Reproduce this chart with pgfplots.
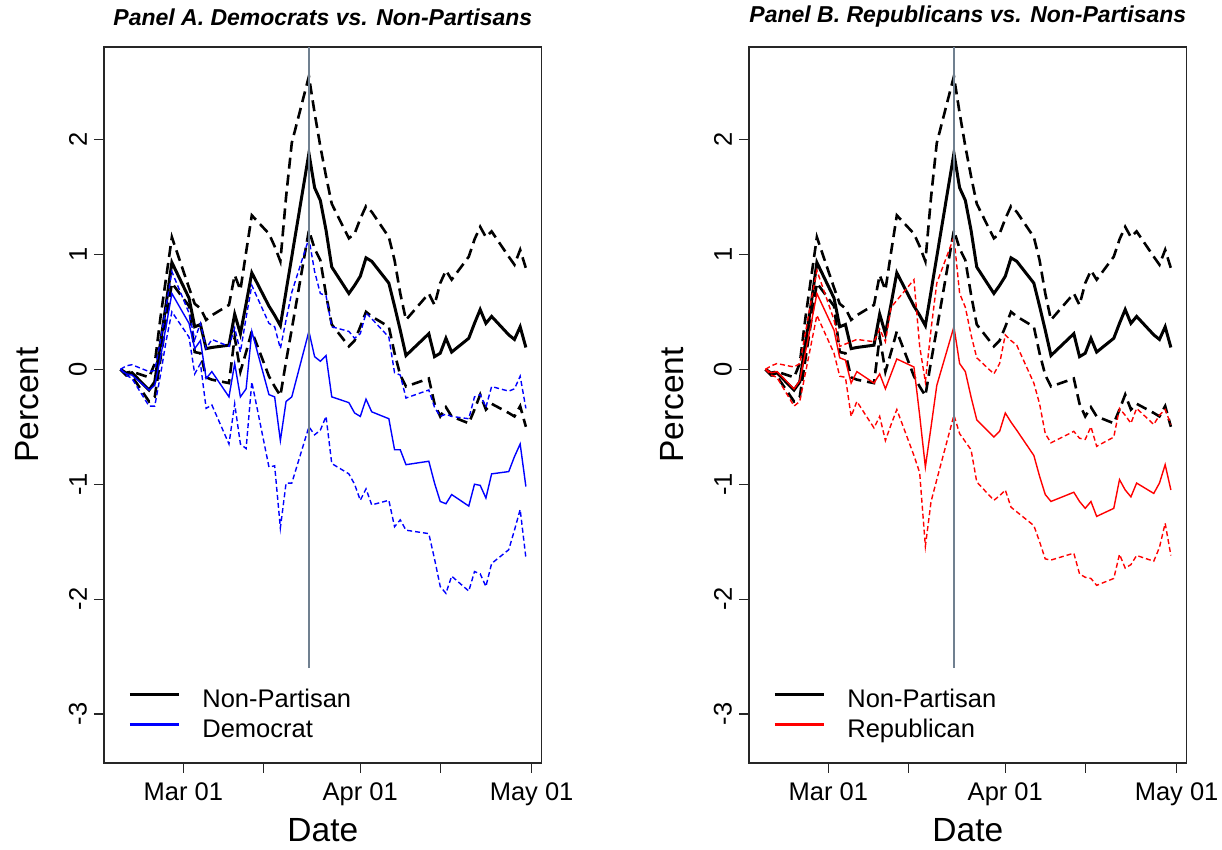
\documentclass[border=0pt]{standalone}
\usepackage{pgfplots}
\pgfplotsset{compat=1.18}
\usepackage{pgfplotstable}
\usepackage{fontspec}
\setmainfont{Liberation Sans}

\definecolor{eventline}{RGB}{112,128,144}

% x = days since 1 March 2020 (trading days only); values in percent
% columns: estimate, upper band, lower band
\pgfplotstableread{
d   mid    hi     lo
-11  0.00  0.00  0.00
-10 -0.05 -0.03 -0.05
-9  -0.03 -0.02 -0.06
-6  -0.18 -0.07 -0.28
-5  -0.11  0.05 -0.24
-4   0.23  0.45  0.09
-3   0.57  0.80  0.42
-2   0.93  1.15  0.75
1    0.62  0.71  0.55
2    0.37  0.57  0.15
3    0.39  0.53  0.14
4    0.18  0.43 -0.07
5    0.19  0.47 -0.09
8    0.21  0.56 -0.12
9    0.48  0.82  0.28
10   0.31  0.69 -0.02
11   0.57  1.02  0.15
12   0.84  1.34  0.33
15   0.55  1.18 -0.06
16   0.47  1.07 -0.15
17   0.38  0.94 -0.23
18   0.68  1.50  0.07
19   0.98  1.97  0.35
22   1.88  2.55  1.21
23   1.58  2.23  1.05
24   1.47  1.94  0.95
25   1.21  1.68  0.65
26   0.89  1.44  0.39
29   0.66  1.14  0.20
30   0.73  1.18  0.25
31   0.81  1.31  0.37
32   0.97  1.42  0.50
33   0.94  1.37  0.46
36   0.75  1.15  0.37
37   0.55  0.95  0.14
38   0.34  0.66 -0.05
39   0.12  0.43 -0.15
43   0.31  0.66 -0.08
44   0.11  0.56 -0.30
45   0.14  0.75 -0.41
46   0.27  0.86 -0.33
47   0.15  0.78 -0.41
50   0.27  0.98 -0.47
51   0.40  1.13 -0.35
52   0.52  1.24 -0.22
53   0.40  1.15 -0.35
54   0.46  1.20 -0.30
57   0.30  0.98 -0.38
58   0.26  0.91 -0.41
59   0.37  1.04 -0.32
60   0.19  0.88 -0.50
}\nonpartisan

\pgfplotstableread{
d   mid    hi     lo
-11  0.00  0.00  0.00
-10 -0.04  0.03 -0.05
-9  -0.05  0.04 -0.08
-6  -0.18 -0.02 -0.32
-5  -0.14 -0.01 -0.32
-4   0.10  0.25 -0.05
-3   0.38  0.55  0.25
-2   0.66  0.85  0.50
1    0.40  0.49  0.28
2    0.18  0.26 -0.04
3    0.25  0.40  0.05
4   -0.08  0.18 -0.34
5   -0.02  0.26 -0.31
8   -0.24  0.20 -0.65
9    0.05  0.36 -0.30
10  -0.24  0.15 -0.65
11  -0.17  0.45 -0.69
12   0.33  0.73 -0.11
15  -0.22  0.40 -0.85
16  -0.24  0.37 -0.84
17  -0.62  0.18 -1.38
18  -0.28  0.43 -0.99
19  -0.24  0.67 -0.99
22   0.33  1.14 -0.50
23   0.11  0.85 -0.57
24   0.07  0.66 -0.53
25   0.12  0.64 -0.41
26  -0.24  0.37 -0.82
29  -0.29  0.33 -0.91
30  -0.38  0.27 -1.00
31  -0.41  0.31 -1.14
32  -0.26  0.49 -1.04
33  -0.37  0.44 -1.18
36  -0.43  0.28 -1.14
37  -0.70 -0.03 -1.37
38  -0.70 -0.05 -1.31
39  -0.83 -0.25 -1.40
43  -0.80 -0.18 -1.43
44  -0.99 -0.33 -1.65
45  -1.15 -0.41 -1.89
46  -1.17 -0.39 -1.95
47  -1.09 -0.41 -1.80
50  -1.19 -0.43 -1.93
51  -1.00 -0.24 -1.76
52  -1.01 -0.22 -1.78
53  -1.12 -0.33 -1.89
54  -0.91 -0.15 -1.69
57  -0.89 -0.19 -1.57
58  -0.76 -0.17 -1.40
59  -0.65 -0.06 -1.22
60  -1.02 -0.34 -1.64
}\democrat

\pgfplotstableread{
d   mid    hi     lo
-11  0.00  0.00  0.00
-10 -0.03  0.03 -0.05
-9  -0.02  0.05 -0.07
-6  -0.17  0.02 -0.32
-5  -0.10  0.05 -0.28
-4   0.15  0.32 -0.03
-3   0.40  0.60  0.22
-2   0.66  0.86  0.47
1    0.34  0.43  0.14
2    0.10  0.20 -0.06
3    0.08  0.22 -0.07
4   -0.12  0.24 -0.41
5   -0.02  0.26 -0.28
8   -0.12  0.24 -0.51
9   -0.04  0.35 -0.41
10  -0.17  0.24 -0.62
11  -0.04  0.54 -0.48
12   0.09  0.60 -0.35
15   0.02  0.78 -0.75
16  -0.40  0.20 -0.90
17  -0.85 -0.11 -1.54
18  -0.50  0.35 -1.15
19  -0.14  0.75 -0.96
22   0.37  1.15 -0.40
23   0.05  0.66 -0.56
24  -0.02  0.54 -0.63
25  -0.24  0.30 -0.70
26  -0.44  0.10 -0.98
29  -0.59 -0.04 -1.14
30  -0.54  0.05 -1.10
31  -0.38  0.30 -1.05
32  -0.46  0.25 -1.20
33  -0.53  0.21 -1.24
36  -0.75 -0.12 -1.36
37  -0.93 -0.30 -1.50
38  -1.09 -0.56 -1.65
39  -1.15 -0.64 -1.66
43  -1.07 -0.54 -1.60
44  -1.15 -0.60 -1.78
45  -1.21 -0.61 -1.81
46  -1.15 -0.50 -1.82
47  -1.28 -0.67 -1.88
50  -1.21 -0.59 -1.82
51  -0.96 -0.34 -1.61
52  -1.05 -0.40 -1.73
53  -1.11 -0.47 -1.70
54  -0.99 -0.34 -1.62
57  -1.08 -0.48 -1.67
58  -0.99 -0.40 -1.55
59  -0.83 -0.35 -1.34
60  -1.05 -0.48 -1.62
}\republican

\pgfplotsset{
  panel/.style={
    scale only axis, width=218.85pt, height=358pt,
    xmin=-13.89, xmax=62.77, ymin=-3.426, ymax=2.805,
    axis line style={black!85, line width=0.55pt},
    tick align=outside, major tick length=5pt,
    every tick/.style={black!85, line width=0.55pt},
    xtick={0,14,31,45,61}, xticklabels={Mar 01,,Apr 01,,May 01},
    ytick={-3,-2,-1,0,1,2}, yticklabels={-3,-2,-1,0,1,2},
    xtick pos=bottom, ytick pos=left,
    ticklabel style={font=\fontsize{12.75}{15}\selectfont},
    xticklabel style={yshift=-1.5pt},
    yticklabel style={rotate=90, anchor=south},
    xlabel=Date, ylabel=Percent,
    label style={font=\fontsize{16.75}{20}\selectfont},
    xlabel style={at={(axis description cs:0.5,-0.0936)}, anchor=center},
    ylabel style={at={(axis description cs:-0.176,0.5)}, anchor=center},
    title style={font=\fontsize{11.5}{14}\selectfont\bfseries\itshape,
      at={(axis description cs:0.5,1.0251)}, anchor=center},
    legend style={at={(axis description cs:0.0548,0.0279)}, anchor=south west,
      draw=none, fill=none, inner sep=0pt, row sep=3.5pt,
      font=\fontsize{12.75}{15}\selectfont,
      nodes={inner sep=0pt, text height=9pt, text depth=2.5pt},
      /tikz/every odd column/.append style={column sep=11pt}},
    legend cell align=left,
    legend image code/.code={\draw[#1] (0pt,3.5pt) -- (24.5pt,3.5pt);},
  },
  est/.style={black, line width=1.5pt},
  band/.style={black, line width=1.3pt, dash pattern=on 5.5pt off 3pt},
}

\begin{document}
\begin{tikzpicture}
\useasboundingbox (0,0) rectangle (611pt,425pt);

\begin{axis}[panel, at={(52pt,43.5pt)}, anchor=south west,
  title={Panel A. Democrats vs. Non-Partisans}]
  \addlegendimage{black, line width=1.5pt}
  \addlegendimage{blue, line width=1.5pt}
  \addplot[band, forget plot] table[x=d, y=hi] {\nonpartisan};
  \addplot[band, forget plot] table[x=d, y=lo] {\nonpartisan};
  \addplot[est, forget plot] table[x=d, y=mid] {\nonpartisan};
  \addplot[blue, line width=0.7pt, dash pattern=on 2.5pt off 1.5pt, forget plot] table[x=d, y=hi] {\democrat};
  \addplot[blue, line width=0.7pt, dash pattern=on 2.5pt off 1.5pt, forget plot] table[x=d, y=lo] {\democrat};
  \addplot[blue, line width=0.7pt, forget plot] table[x=d, y=mid] {\democrat};
  \addplot[eventline, line width=1pt, forget plot] coordinates {(22,-2.6) (22,2.805)};
  \legend{Non-Partisan, Democrat}
\end{axis}

\begin{axis}[panel, at={(374.5pt,43.5pt)}, anchor=south west,
  title={Panel B. Republicans vs. Non-Partisans}]
  \addlegendimage{black, line width=1.5pt}
  \addlegendimage{red, line width=1.5pt}
  \addplot[band, forget plot] table[x=d, y=hi] {\nonpartisan};
  \addplot[band, forget plot] table[x=d, y=lo] {\nonpartisan};
  \addplot[est, forget plot] table[x=d, y=mid] {\nonpartisan};
  \addplot[red, line width=0.7pt, dash pattern=on 2.5pt off 1.5pt, forget plot] table[x=d, y=hi] {\republican};
  \addplot[red, line width=0.7pt, dash pattern=on 2.5pt off 1.5pt, forget plot] table[x=d, y=lo] {\republican};
  \addplot[red, line width=0.7pt, forget plot] table[x=d, y=mid] {\republican};
  \addplot[eventline, line width=1pt, forget plot] coordinates {(22,-2.6) (22,2.805)};
  \legend{Non-Partisan, Republican}
\end{axis}
\end{tikzpicture}
\end{document}
